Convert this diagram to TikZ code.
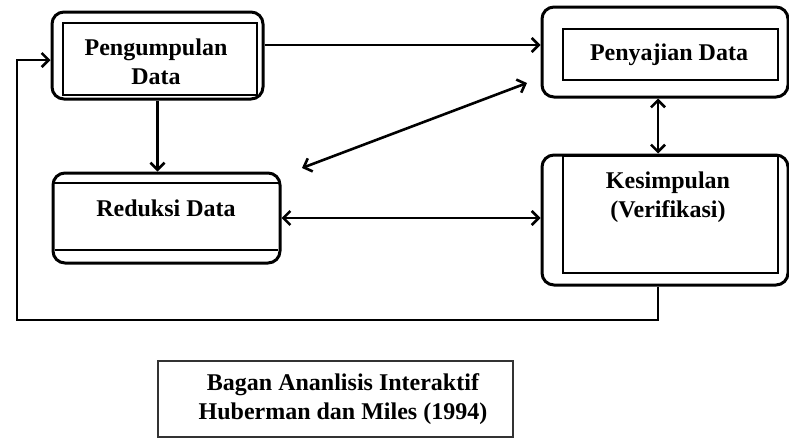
\documentclass[tikz,border=0pt]{standalone}
\usepackage{fontspec}
\setmainfont{Liberation Serif}
\usetikzlibrary{arrows.meta}

\tikzset{
	luar/.style={draw, line width=3pt, rounded corners=12pt, inner sep=0pt},
	dalam/.style={draw, line width=1.8pt},
	teks/.style={align=center, font=\fontsize{24}{29}\selectfont\bfseries, inner sep=0pt},
	panah/.style={line width=2.6pt, -{Straight Barb[length=7pt,width=14pt,line width=2.6pt]}},
	duapanah/.style={line width=2.6pt, {Straight Barb[length=7pt,width=14pt,line width=2.6pt]}-{Straight Barb[length=7pt,width=14pt,line width=2.6pt]}}
}

\begin{document}
\begin{tikzpicture}[x=1pt, y=-1pt]

	\useasboundingbox (0,0) rectangle (789,439);

	% Pengumpulan Data
	\node[luar, minimum width=211pt, minimum height=87pt] (pengumpulan) at (157.5,55.5) {};
	\draw[dalam] (63,23) rectangle (257,95);
	\node[teks] (tpengumpulan) at (156,62) {Pengumpulan\\Data};

	% Penyajian Data
	\node[luar, minimum width=246pt, minimum height=90pt] (penyajian) at (665,52) {};
	\draw[dalam] (563,29) rectangle (778,80);
	\node[teks] (tpenyajian) at (669,55) {Penyajian Data};

	% Reduksi Data
	\node[luar, minimum width=227pt, minimum height=90pt] (reduksi) at (166.5,218) {};
	\draw[dalam] (55,183) -- (278,183);
	\draw[dalam] (55,250) -- (278,250);
	\node[teks] (treduksi) at (166,208) {Reduksi Data};

	% Kesimpulan (Verifikasi)
	\node[luar, minimum width=246pt, minimum height=130pt] (kesimpulan) at (665,220) {};
	\draw[dalam] (563,156) rectangle (778,273);
	\node[teks] (tkesimpulan) at (668,197) {Kesimpulan\\(Verifikasi)};

	% Keterangan bagan
	\node[draw, line width=1.4pt, draw=black!80, minimum width=355pt, minimum height=76pt] (bagan) at (335.5,399) {};
	\node[teks] (tbagan) at (343,399) {Bagan Ananlisis Interaktif\\Huberman dan Miles (1994)};

	% Panah
	\draw[panah] ([yshift=10.5pt]pengumpulan.east) -- ([yshift=10.5pt]pengumpulan.east -| penyajian.west);
	\draw[panah] (pengumpulan.south) -- (pengumpulan.south |- reduksi.north);
	\draw[duapanah] ([xshift=-7pt]penyajian.south) -- ([xshift=-7pt]penyajian.south |- kesimpulan.north);
	\draw[duapanah] (reduksi.east) -- (reduksi.east -| kesimpulan.west);

	% Panah miring
	\coordinate (miring1) at (302,168);
	\coordinate (miring2) at (527,83);
	\draw[duapanah] (miring1) -- (miring2);

	% Umpan balik
	\coordinate (balik) at (17,320);
	\draw[panah] ([xshift=-7pt]kesimpulan.south) |- (balik) |- ([yshift=-4.5pt]pengumpulan.west);

\end{tikzpicture}
\end{document}
